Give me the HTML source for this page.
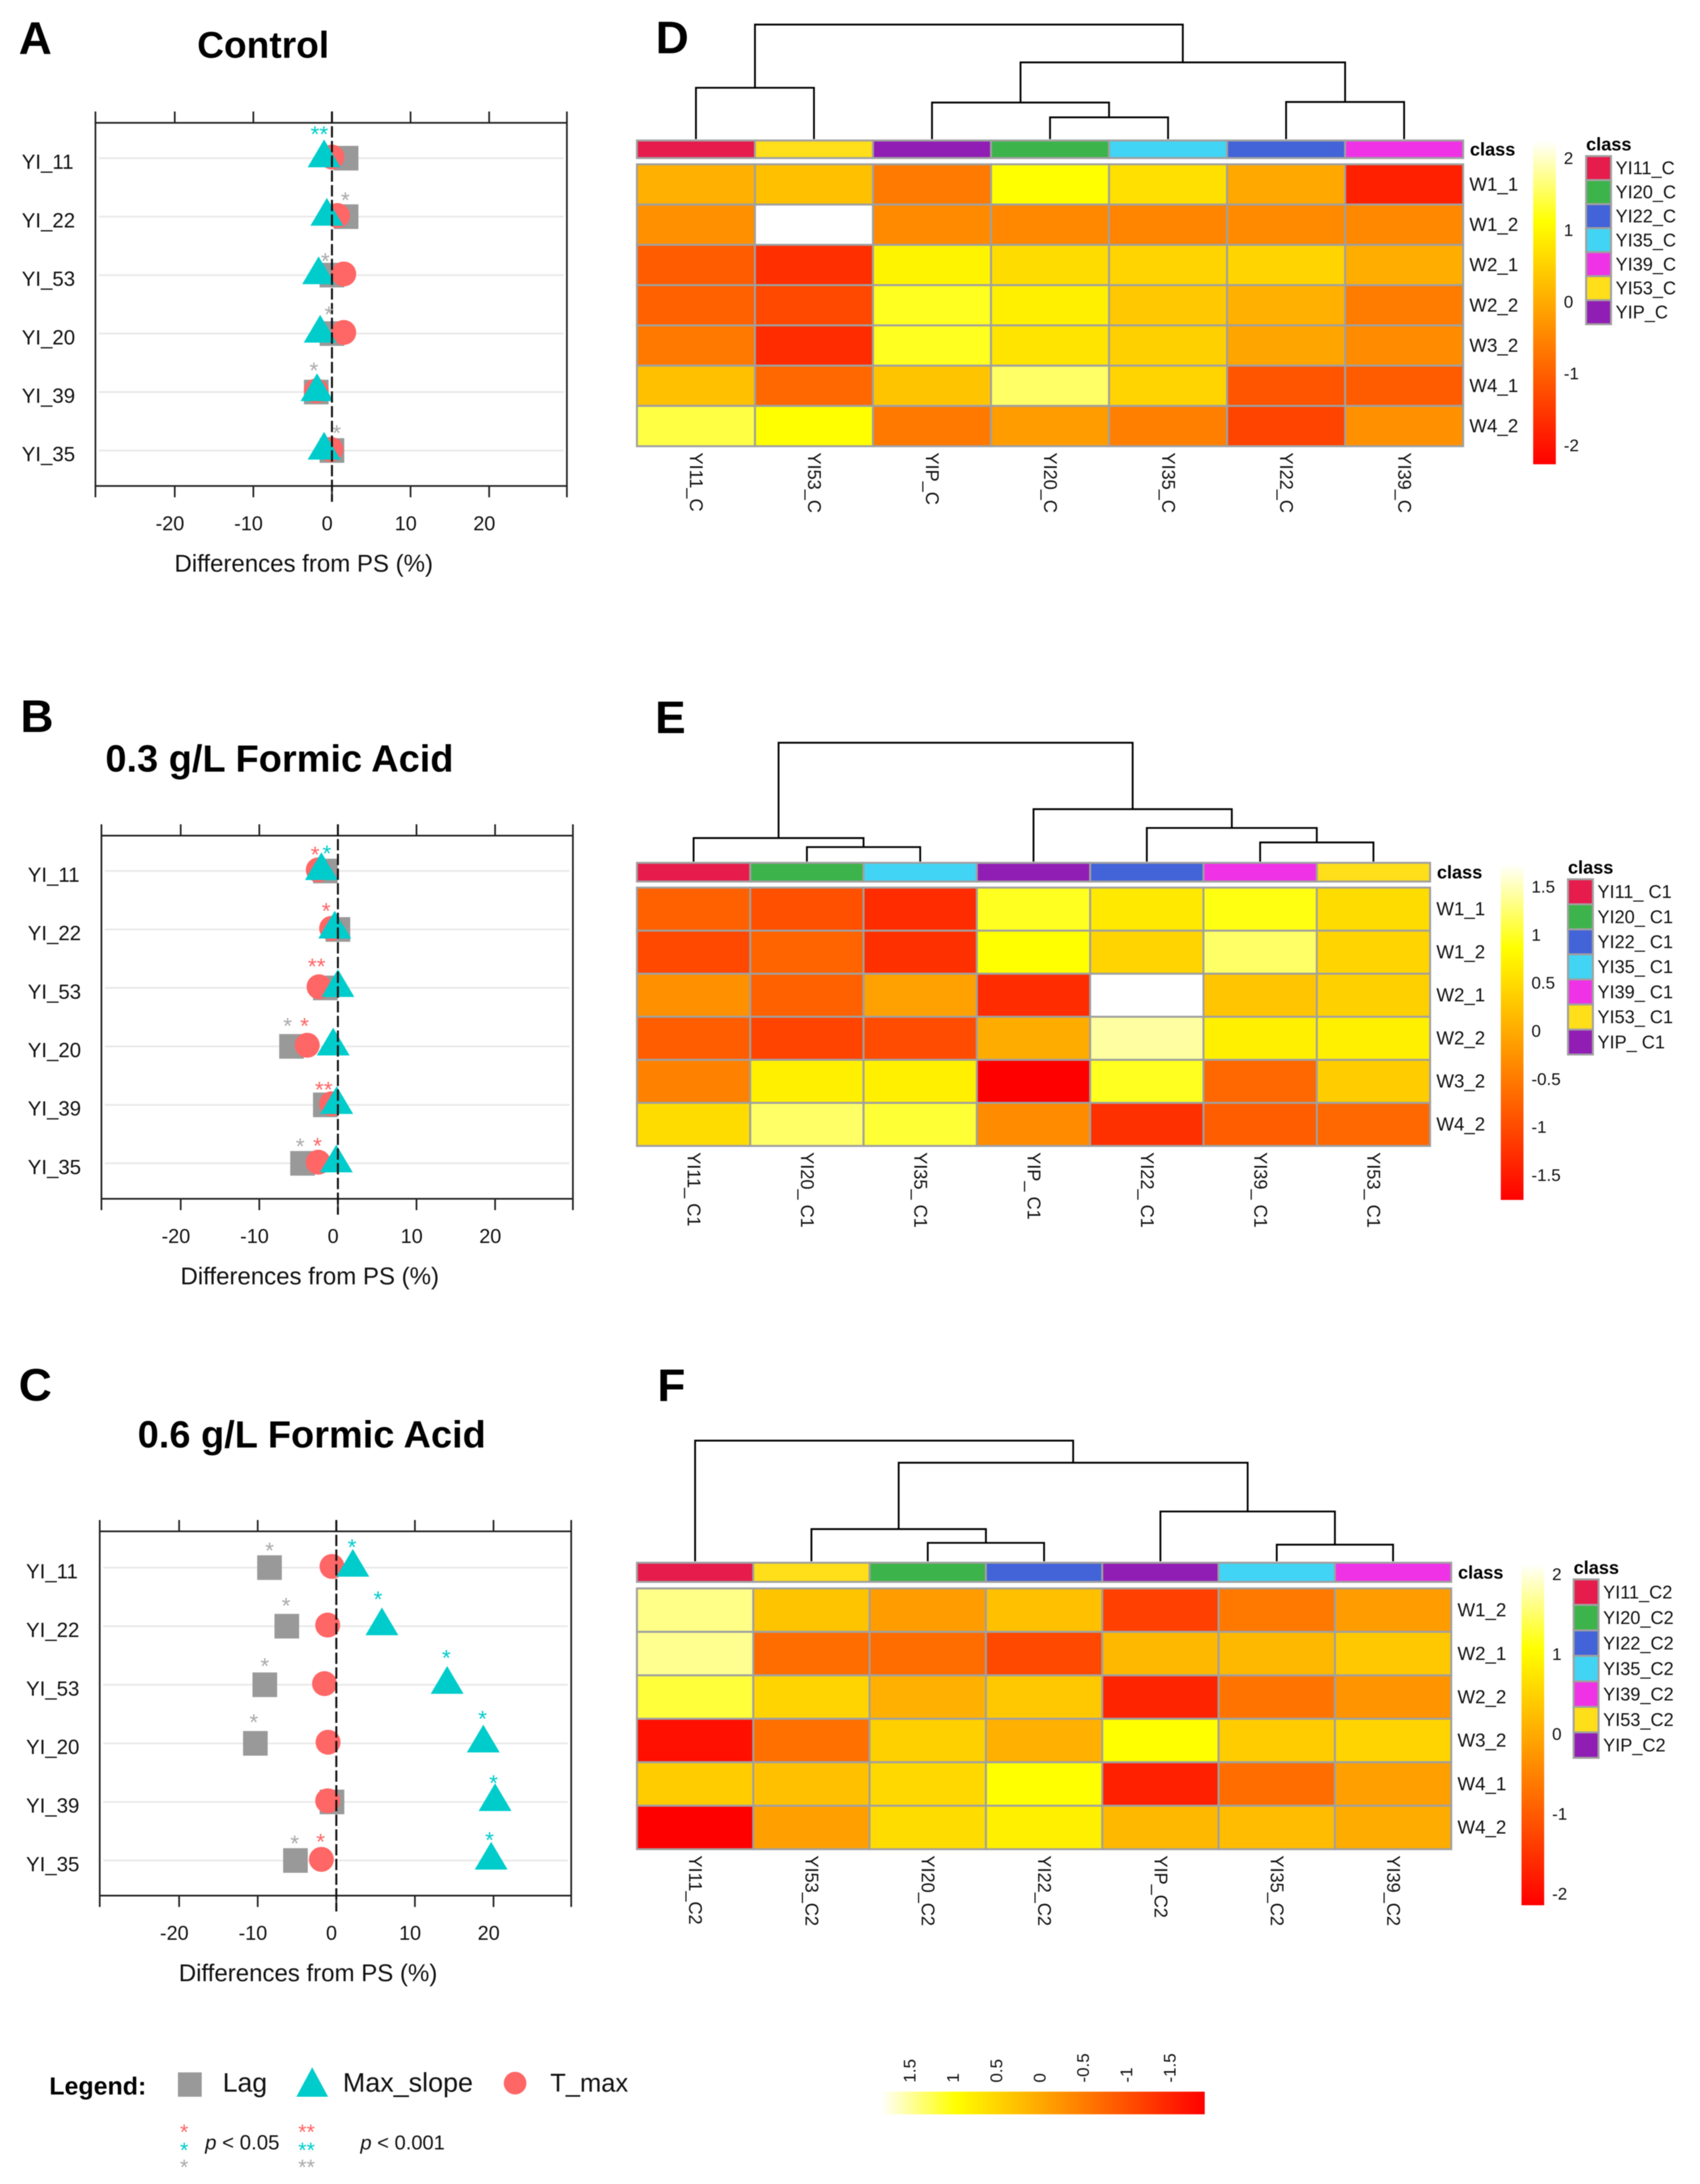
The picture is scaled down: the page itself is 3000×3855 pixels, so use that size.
<!DOCTYPE html>
<html lang="en">
<head>
<meta charset="utf-8">
<title>Differences from PS and heatmaps</title>
<style>
html,body{margin:0;padding:0;background:#fff;}
svg{display:block;filter:blur(0.8px);}
text{font-family:"Liberation Sans",sans-serif;fill:#111;}
.b{font-weight:bold;fill:#000;}
</style>
</head>
<body>
<svg id="fig" xmlns="http://www.w3.org/2000/svg" width="3000" height="3855" viewBox="0 0 3000 3855">
  <defs>
    <linearGradient id="heat-v" x1="0" y1="1" x2="0" y2="0">
      <stop offset="0" stop-color="#ff0000"/><stop offset="0.75" stop-color="#ffff00"/><stop offset="1" stop-color="#ffffff"/>
    </linearGradient>
    <linearGradient id="heat-h" x1="0" y1="0" x2="1" y2="0">
      <stop offset="0" stop-color="#ffffff"/><stop offset="0.23" stop-color="#ffff00"/><stop offset="1" stop-color="#ff0000"/>
    </linearGradient>
  </defs>
  <rect width="3000" height="3855" fill="#fff"/>

  <text class="b" x="33" y="95" font-size="81">A</text>
  <text class="b" x="36" y="1292" font-size="81">B</text>
  <text class="b" x="33" y="2472" font-size="81">C</text>
  <text class="b" x="1157" y="94" font-size="81">D</text>
  <text class="b" x="1156" y="1294" font-size="81">E</text>
  <text class="b" x="1160" y="2473" font-size="81">F</text>

  <text class="b" x="348" y="102" font-size="65.5">Control</text>
  <text class="b" x="186" y="1362" font-size="67">0.3 g/L Formic Acid</text>
  <text class="b" x="243" y="2555" font-size="67">0.6 g/L Formic Acid</text>

  <g id="scatter-a"></g>
  <g id="scatter-b"></g>
  <g id="scatter-c"></g>
  <g id="heat-d"></g>
  <g id="heat-e"></g>
  <g id="heat-f"></g>

  <g>
    <text class="b" x="87" y="3697" font-size="44">Legend:</text>
    <rect x="314" y="3658" width="42" height="43" fill="#999999"/>
    <text x="393" y="3692" font-size="47">Lag</text>
    <polygon points="551,3649 523,3701 579,3701" fill="#00cccc"/>
    <text x="605" y="3692" font-size="47.5">Max_slope</text>
    <circle cx="909" cy="3677" r="20" fill="#ff6666"/>
    <text x="971" y="3692" font-size="45">T_max</text>

    <text x="325" y="3776" font-size="38" text-anchor="middle" style="fill:#ff6666">*</text>
    <text x="325" y="3808" font-size="38" text-anchor="middle" style="fill:#00cccc">*</text>
    <text x="325" y="3838" font-size="38" text-anchor="middle" style="fill:#aaaaaa">*</text>
    <text x="541" y="3776" font-size="38" text-anchor="middle" style="fill:#ff6666">**</text>
    <text x="541" y="3808" font-size="38" text-anchor="middle" style="fill:#00cccc">**</text>
    <text x="541" y="3838" font-size="38" text-anchor="middle" style="fill:#aaaaaa">**</text>
    <text x="362" y="3794" font-size="36"><tspan font-style="italic">p</tspan> &lt; 0.05</text>
    <text x="636" y="3794" font-size="35.5"><tspan font-style="italic">p</tspan> &lt; 0.001</text>
  </g>

  <g id="bottom-bar">
    <rect x="1555" y="3692" width="571" height="40" fill="url(#heat-h)"/>
  </g>
</svg>

<script>
var SVGNS = 'http://www.w3.org/2000/svg';

/* ---------- scatter data (differences from PS, %) ---------- */
var strainLabels = ['YI_11', 'YI_22', 'YI_53', 'YI_20', 'YI_39', 'YI_35'];
var xTicks = [-30, -20, -10, 0, 10, 20, 30];
var xTickLabels = [-20, -10, 0, 10, 20];

var lagA = [1.8, 1.8, 0, 0, -2, 0];
var tmaxA = [0, 0.7, 1.5, 1.5, -2, -0.15];
var slopeA = [-1.0, -0.65, -1.7, -1.5, -1.9, -1.0];
var starRowA = [0, 1, 2, 3, 4, 5];
var starSeriesA = ['slope', 'lag', 'lag', 'lag', 'lag', 'lag'];
var starCountA = [2, 1, 1, 1, 1, 1];
var starValueA = [-1.6, 1.7, -0.85, -0.4, -2.3, 0.6];
var starLiftA = [0.50, 0.37, 0.33, 0.42, 0.46, 0.39];

var lagB = [-1.6, 0, -1.6, -5.9, -1.6, -4.5];
var tmaxB = [-2.5, -0.8, -2.4, -3.9, -0.8, -2.5];
var slopeB = [-2.1, -0.4, 0, -0.6, -0.15, -0.2];
var starRowB = [0, 0, 1, 2, 3, 3, 4, 5, 5];
var starSeriesB = ['tmax', 'slope', 'tmax', 'tmax', 'lag', 'tmax', 'tmax', 'lag', 'tmax'];
var starCountB = [1, 1, 1, 2, 1, 1, 2, 1, 1];
var starValueB = [-2.9, -1.4, -1.5, -2.7, -6.4, -4.25, -1.8, -4.8, -2.6];
var starLiftB = [0.37, 0.39, 0.41, 0.46, 0.44, 0.44, 0.35, 0.38, 0.39];

var lagC = [-8.5, -6.3, -9.1, -10.3, -0.55, -5.2];
var tmaxC = [-0.55, -1.1, -1.5, -1.05, -1.1, -1.9];
var slopeC = [2.1, 5.8, 14.1, 18.7, 20.2, 19.7];
var starRowC = [0, 0, 1, 1, 2, 2, 3, 3, 4, 5, 5, 5];
var starSeriesC = ['lag', 'slope', 'lag', 'slope', 'lag', 'slope', 'lag', 'slope', 'slope', 'lag', 'tmax', 'slope'];
var starCountC = [1, 1, 1, 1, 1, 1, 1, 1, 1, 1, 1, 1];
var starValueC = [-8.5, 2, -6.4, 5.3, -9.1, 14, -10.5, 18.6, 20, -5.3, -2, 19.5];
var starLiftC = [0.38, 0.44, 0.44, 0.55, 0.41, 0.55, 0.45, 0.51, 0.41, 0.38, 0.41, 0.44];

/* ---------- heatmap data ---------- */
var classColors = {YI11:'#e61c4c', YI20:'#3cb44b', YI22:'#4363d8', YI35:'#42d4f4', YI39:'#f032e6', YI53:'#ffde1a', YIP:'#911eb4'};
var legendClasses = ['YI11', 'YI20', 'YI22', 'YI35', 'YI39', 'YI53', 'YIP'];

var colsD = ['YI11', 'YI53', 'YIP', 'YI20', 'YI35', 'YI22', 'YI39'];
var rowsD = ['W1_1', 'W1_2', 'W2_1', 'W2_2', 'W3_2', 'W4_1', 'W4_2'];
var valuesD = [
  [0.06, 0.28, -0.65, 1.11, 0.70, -0.04, -1.85],
  [-0.36, 2.24, -0.44, -0.47, -0.52, -0.44, -0.47],
  [-1.05, -1.64, 0.97, 0.64, 0.54, 0.54, 0.04],
  [-1.00, -1.32, 1.25, 0.91, 0.38, 0.06, -0.62],
  [-0.67, -1.69, 1.25, 0.75, 0.49, -0.08, -0.42],
  [0.28, -0.89, 0.33, 1.56, 0.54, -1.16, -1.05],
  [1.41, 1.11, -0.67, -0.20, -0.57, -1.37, -0.36]
];
var mergeD = [[-1,-2],[-4,-5],[-3,2],[-6,-7],[3,4],[1,5]];
var heightD = [44.8, 19, 31.9, 32.4, 67, 100];
var barTicksD = [2, 1, 0, -1, -2];

var colsE = ['YI11', 'YI20', 'YI35', 'YIP', 'YI22', 'YI39', 'YI53'];
var rowsE = ['W1_1', 'W1_2', 'W2_1', 'W2_2', 'W3_2', 'W4_2'];
var valuesE = [
  [-0.77, -0.94, -1.31, 0.97, 0.63, 0.92, 0.50],
  [-1.02, -0.73, -1.27, 0.86, 0.42, 1.21, 0.42],
  [-0.28, -0.77, -0.11, -1.31, 1.736, 0.26, 0.38],
  [-0.81, -1.06, -0.98, 0.01, 1.41, 0.71, 0.71],
  [-0.44, 0.71, 0.71, -1.76, 0.97, -0.69, 0.34],
  [0.50, 1.21, 1.04, -0.32, -1.27, -0.81, -0.69]
];
var mergeE = [[-2,-3],[-1,1],[-6,-7],[-5,3],[-4,4],[2,5]];
var heightE = [12.2, 19.8, 16.1, 28.3, 44.1, 100];
var barTicksE = [1.5, 1, 0.5, 0, -0.5, -1, -1.5];

var colsF = ['YI11', 'YI53', 'YI20', 'YI22', 'YIP', 'YI35', 'YI39'];
var rowsF = ['W1_2', 'W2_1', 'W2_2', 'W3_2', 'W4_1', 'W4_2'];
var valuesF = [
  [1.63, 0.32, -0.19, 0.27, -1.34, -0.64, -0.19],
  [1.66, -0.79, -0.79, -1.24, 0.17, 0.17, 0.37],
  [1.30, 0.52, 0.07, 0.37, -1.70, -0.69, -0.29],
  [-1.95, -0.74, 0.47, 0.07, 1.06, 0.42, 0.52],
  [0.42, 0.27, 0.57, 1.06, -1.75, -0.79, -0.14],
  [-2.15, -0.14, 0.62, 0.87, 0.17, 0.22, 0.02]
];
var mergeF = [[-3,-4],[-2,1],[-6,-7],[-5,3],[2,4],[-1,5]];
var heightF = [15.3, 26.7, 13.8, 41.3, 81.7, 100];
var barTicksF = [2, 1, 0, -1, -2];

var bottomBarTicks = ['1.5', '1', '0.5', '0', '-0.5', '-1', '-1.5'];

/* ---------- helpers ---------- */
function mk(parent, tag, attrs) {
  var node = document.createElementNS(SVGNS, tag);
  for (var k in attrs) node.setAttribute(k, attrs[k]);
  parent.appendChild(node);
  return node;
}
function heatColor(t) {
  t = Math.max(0, Math.min(1, t));
  if (t < 0.75) return 'rgb(255,' + Math.round(255 * t / 0.75) + ',0)';
  return 'rgb(255,255,' + Math.round(255 * (t - 0.75) / 0.25) + ')';
}

/* ---------- scatter ---------- */
var MARK_COLOR = {lag:'#aaaaaa', tmax:'#ff6666', slope:'#00cccc'};

function drawScatter(rootId, opt, lag, tmax, slope, starRow, starSeries, starCount, starValue, starLift) {
  var root = document.getElementById(rootId);
  var UNIT = 13.87, FW = 832, FH = opt.height, SPACE = opt.space, FIRST = opt.first, TICK = 20;
  var left = opt.left, top = opt.top, bottom = top + FH, right = left + FW;
  function x(v) { return opt.zero + v * UNIT; }
  function y(r) { return top + FIRST + r * SPACE; }

  strainLabels.forEach(function (name, i) {
    var g = mk(root, 'line', {x1:left + 6, x2:right - 6, y1:y(i), y2:y(i), stroke:'#e8e8e8', 'stroke-width':3});
    
    
    var t = mk(root, 'text', {x:left - 130, y:y(i) + 19, 'font-size':36});
    t.textContent = name;
    
    
  });

  var frame = mk(root, 'rect', {x:left, y:top, width:FW, height:FH, fill:'none', stroke:'#222', 'stroke-width':3});
  
  

  xTicks.forEach(function (v) {
    var tx = v === -30 ? left : (v === 30 ? right : x(v));
    var a = mk(root, 'line', {x1:tx, x2:tx, y1:top - TICK, y2:top, stroke:'#222', 'stroke-width':3});
    
    
    var b = mk(root, 'line', {x1:tx, x2:tx, y1:bottom, y2:bottom + TICK, stroke:'#222', 'stroke-width':3});
    
    
  });
  xTickLabels.forEach(function (v) {
    var t = mk(root, 'text', {x:x(v) - 8.5, y:bottom + 78, 'font-size':35, 'text-anchor':'middle'});
    t.textContent = String(v);
    
    
  });
  var title = mk(root, 'text', {x:left + 139.5, y:bottom + 151, 'font-size':42.4});
  title.textContent = 'Differences from PS (%)';
  
  

  lag.forEach(function (v, i) {
    var m = mk(root, 'rect', {x:x(v) - 21.75, y:y(i) - 21.75, width:43.5, height:43.5, fill:'#999999'});
    
    
  });
  tmax.forEach(function (v, i) {
    var m = mk(root, 'circle', {cx:x(v), cy:y(i) - 2, r:22, fill:'#ff6666'});
    
    
  });
  slope.forEach(function (v, i) {
    var px = x(v), py = y(i);
    var m = mk(root, 'polygon', {points:px + ',' + (py - 33) + ' ' + (px - 29) + ',' + (py + 16) + ' ' + (px + 29) + ',' + (py + 16), fill:'#00cccc'});
    
    
  });

  var dash = mk(root, 'line', {x1:x(0), x2:x(0), y1:top - TICK, y2:bottom + 28, stroke:'#111', 'stroke-width':3.5, 'stroke-dasharray':'20 6'});
  
  

  starRow.forEach(function (r, i) {
    var st = mk(root, 'text', {x:x(starValue[i]), y:y(r - starLift[i]) + 23, 'font-size':40, 'text-anchor':'middle'});
    st.style.fill = MARK_COLOR[starSeries[i]];
    st.textContent = starCount[i] === 2 ? '**' : '*';
    
    
  });
}

/* ---------- heatmap ---------- */
function drawHeatmap(rootId, opt, cols, rows, values, merge, height, barTicks) {
  var root = document.getElementById(rootId);
  var cw = (opt.right - opt.left) / cols.length;
  var ch = (opt.bottom - opt.top) / rows.length;
  function cx(i) { return opt.left + (i + 0.5) * cw; }
  function dy(h) { return opt.dBottom - h / 100 * (opt.dBottom - opt.dTop); }
  function barY(v) { return opt.barZeroY - v * opt.barUnit; }
  var vMax = (opt.barZeroY - opt.barTop) / opt.barUnit;
  var vMin = (opt.barZeroY - opt.barBottom) / opt.barUnit;

  /* dendrogram */
  var nodeX = [];
  function pos(ref) { return ref < 0 ? {x:cx(-ref - 1), y:opt.dBottom} : nodeX[ref - 1]; }
  merge.forEach(function (pair, i) {
    var a = pos(pair[0]), b = pos(pair[1]), h = dy(height[i]);
    var p = mk(root, 'path', {d:'M' + a.x + ' ' + a.y + 'V' + h + 'H' + b.x + 'V' + b.y, fill:'none', stroke:'#000', 'stroke-width':3.2});
    
    
    nodeX.push({x:(a.x + b.x) / 2, y:h});
  });

  /* annotation bar */
  cols.forEach(function (c, i) {
    var r = mk(root, 'rect', {x:opt.left + i * cw, y:opt.annTop, width:cw, height:opt.annBottom - opt.annTop, fill:classColors[c], stroke:'#a0a0a0', 'stroke-width':3.5});
    
    
  });
  var ann = mk(root, 'text', {x:opt.right + 12, y:(opt.annTop + opt.annBottom) / 2 + 11, 'font-size':32, 'class':'b'});
  ann.textContent = 'class';
  
  

  /* cells */
  values.forEach(function (row, r) {
    row.forEach(function (v, c) {
      var t = (v - vMin) / (vMax - vMin);
      var cell = mk(root, 'rect', {x:opt.left + c * cw, y:opt.top + r * ch, width:cw, height:ch, fill:heatColor(t), stroke:'#a0a0a0', 'stroke-width':3.5});
      
      
    });
  });

  rows.forEach(function (name, r) {
    var t = mk(root, 'text', {x:opt.right + 11, y:opt.top + (r + 0.5) * ch + 11, 'font-size':33});
    t.textContent = name;
    
    
  });
  cols.forEach(function (c, i) {
    var lx = cx(i) - 10.5, ly = opt.bottom + 11;
    var t = mk(root, 'text', {x:lx, y:ly, 'font-size':32, transform:'rotate(90 ' + lx + ' ' + ly + ')'});
    t.textContent = c + opt.suffix;
    
    
  });

  /* colour bar */
  var bar = mk(root, 'rect', {x:opt.barX, y:opt.barTop, width:40, height:opt.barBottom - opt.barTop, fill:'url(#heat-v)'});
  
  
  barTicks.forEach(function (v) {
    var t = mk(root, 'text', {x:opt.barX + 54, y:barY(v) + 11, 'font-size':30});
    t.textContent = String(v);
    
    
  });

  /* class legend */
  var lt = mk(root, 'text', {x:opt.legX, y:opt.legTop - 10, 'font-size':32, 'class':'b'});
  lt.textContent = 'class';
  
  
  legendClasses.forEach(function (c, i) {
    var k = mk(root, 'rect', {x:opt.legX, y:opt.legTop + i * opt.legStep, width:44, height:opt.legStep, fill:classColors[c], stroke:'#a0a0a0', 'stroke-width':3.5});
    
    
    var t = mk(root, 'text', {x:opt.legX + 52, y:opt.legTop + (i + 0.5) * opt.legStep + 11, 'font-size':32});
    t.textContent = c + opt.suffix;
    
    
  });
}

drawScatter('scatter-a', {left:168.4, top:216.8, zero:585.8, height:641, first:62.4, space:103.2}, lagA, tmaxA, slopeA, starRowA, starSeriesA, starCountA, starValueA, starLiftA);
drawScatter('scatter-b', {left:179, top:1475, zero:596.3, height:641, first:62.4, space:103.2}, lagB, tmaxB, slopeB, starRowB, starSeriesB, starCountB, starValueB, starLiftB);
drawScatter('scatter-c', {left:176, top:2703, zero:593.5, height:643, first:64, space:103.4}, lagC, tmaxC, slopeC, starRowC, starSeriesC, starCountC, starValueC, starLiftC);

drawHeatmap('heat-d', {left:1124, right:2582, top:290, bottom:787.6, dBottom:245.5, dTop:43.4, annTop:248, annBottom:279, suffix:'_C',
  barX:2705.6, barTop:248.7, barBottom:819.5, barZeroY:532, barUnit:126.7, legX:2799, legTop:275.5, legStep:42.4}, colsD, rowsD, valuesD, mergeD, heightD, barTicksD);
drawHeatmap('heat-e', {left:1124, right:2523.7, top:1566.7, bottom:2022.7, dBottom:1520.8, dTop:1311, annTop:1523, annBottom:1556, suffix:'_ C1',
  barX:2648.5, barTop:1525, barBottom:2118, barZeroY:1819, barUnit:169.6, legX:2767, legTop:1552, legStep:44.2}, colsE, rowsE, valuesE, mergeE, heightE, barTicksE);
drawHeatmap('heat-f', {left:1124, right:2561, top:2803.7, bottom:3264, dBottom:2755.9, dTop:2542.9, annTop:2758.4, annBottom:2792.2, suffix:'_C2',
  barX:2685, barTop:2760, barBottom:3363, barZeroY:3060, barUnit:141, legX:2777, legTop:2787.8, legStep:45}, colsF, rowsF, valuesF, mergeF, heightF, barTicksF);

/* bottom colour bar ticks */
(function () {
  var root = document.getElementById('bottom-bar');
  function bx(v) { return 1835 - v * 153; }
  bottomBarTicks.forEach(function (label) {
    var px = bx(parseFloat(label)) + 10, py = 3676;
    var t = mk(root, 'text', {x:px, y:py, 'font-size':30, transform:'rotate(-90 ' + px + ' ' + py + ')'});
    t.textContent = label;
    
    
  });
})();
</script>
</body>
</html>
